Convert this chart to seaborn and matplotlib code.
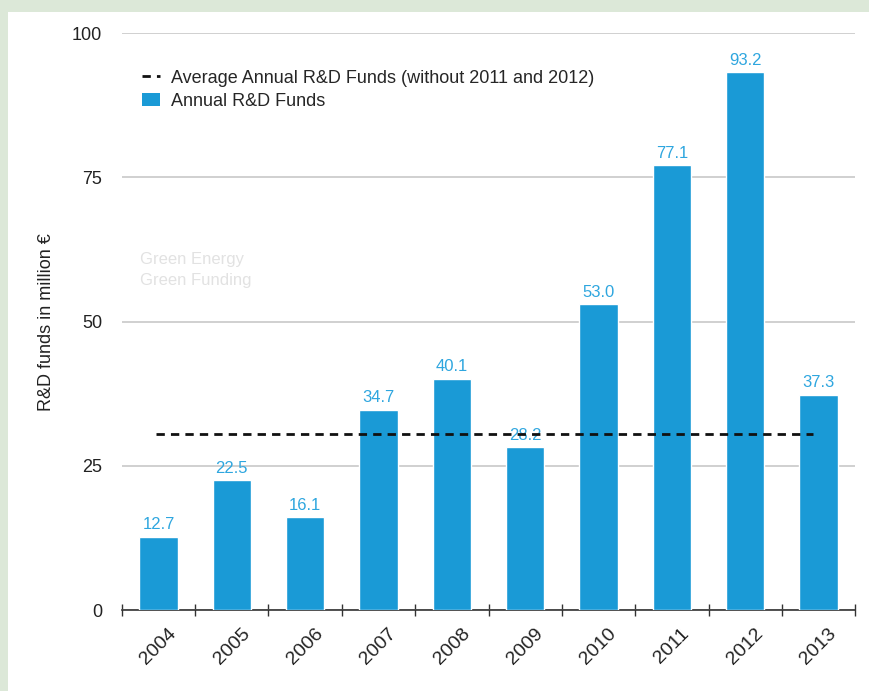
import matplotlib
matplotlib.use("Agg")
from matplotlib import pyplot as plt
from matplotlib.lines import Line2D
from matplotlib.patches import Patch, Rectangle
import pandas as pd
import seaborn as sns

years = ['2004', '2005', '2006', '2007', '2008', '2009', '2010', '2011', '2012', '2013']
funds = [12.7, 22.5, 16.1, 34.7, 40.1, 28.2, 53.0, 77.1, 93.2, 37.3]
excluded_years = ['2011', '2012']
y_ticks = [0, 25, 50, 75, 100]

bar_color = '#1a9ad6'
label_color = '#2ea6df'

df = pd.DataFrame({'year': years, 'funds': funds})
avg_funds = df[~df['year'].isin(excluded_years)]['funds'].mean()

sns.set_style('white')
plt.rcParams['font.family'] = ['Liberation Sans', 'DejaVu Sans']

fig = plt.figure(figsize=(8.7, 6.91), dpi=100)
fig.patch.set_facecolor('white')
# light green frame at top and left
fig.patches.append(Rectangle((0, 0.983), 1, 0.017, transform=fig.transFigure,
                             facecolor='#dce8d8', edgecolor='none', zorder=0))
fig.patches.append(Rectangle((0, 0), 0.009, 1, transform=fig.transFigure,
                             facecolor='#dce8d8', edgecolor='none', zorder=0))

ax = fig.add_axes([0.140, 0.117, 0.843, 0.835])
ax.set_facecolor('none')

sns.barplot(data=df, x='year', y='funds', color=bar_color, width=0.52,
            saturation=1, ax=ax, zorder=3)

for i, v in enumerate(funds):
    ax.text(i, v + 0.8, f'{v:.1f}', ha='center', va='bottom',
            color=label_color, fontsize=12, zorder=4)

ax.hlines(avg_funds, -0.03, 8.92, colors='#111111', linestyles=(0, (3, 2.2)),
          linewidth=2, zorder=5)

# faint watermark
ax.text(-0.25, 59, 'Green Energy\nGreen Funding', color='#e2e2e2', fontsize=12,
        ha='left', va='center', linespacing=1.5, zorder=1)

ax.set_xlim(-0.5, 9.5)
ax.set_ylim(0, 100)
ax.set_yticks(y_ticks)
ax.yaxis.grid(True, color='#c8c8c8', linewidth=1.2)
ax.set_axisbelow(True)

for side in ['left', 'right', 'top']:
    ax.spines[side].set_visible(False)
ax.spines['bottom'].set_color('#333333')
ax.spines['bottom'].set_linewidth(1.2)

ax.set_xticks([i for i in range(len(years))])
ax.set_xticklabels(years, rotation=45, ha='center', fontsize=14, color='#222222')
ax.tick_params(axis='x', which='major', length=0, pad=11)
ax.set_xticks([i - 0.5 for i in range(len(years) + 1)], minor=True)
ax.tick_params(axis='x', which='minor', bottom=True, direction='inout', length=8,
               width=1, color='#333333')
ax.tick_params(axis='y', length=0, pad=14, labelsize=13, labelcolor='#222222')

ax.set_xlabel('')
ax.set_ylabel('R&D funds in million €', fontsize=13, color='#222222', labelpad=12)

handles = [
    Line2D([0], [0], color='#111111', linestyle=(0, (3, 2.2)), linewidth=2),
    Patch(facecolor=bar_color, edgecolor='none'),
]
ax.legend(handles, ['Average Annual R&D Funds (without 2011 and 2012)',
                    'Annual R&D Funds'],
          loc='upper left', bbox_to_anchor=(0.005, 0.965), frameon=False,
          fontsize=13, handlelength=1.0, handletextpad=0.6,
          labelspacing=0.35)

plt.savefig('out.png', dpi=100)
plt.close()
